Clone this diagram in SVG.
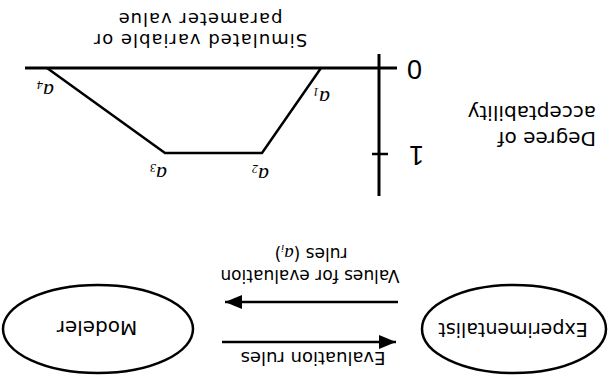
<svg xmlns="http://www.w3.org/2000/svg" width="609" height="376" viewBox="0 0 609 376">
<defs>
<style>
.t{font-family:"DejaVu Sans","Liberation Sans",sans-serif;fill:#000}
.n{font-family:"Liberation Sans Narrow","Liberation Sans",sans-serif;fill:#000;font-size:27px}
.ln{stroke:#000;fill:none}
.ai{font-family:"Liberation Serif",serif;font-style:italic;font-size:22px;fill:#000}
.sub{font-size:12px}
</style>
<marker id="ah" markerUnits="userSpaceOnUse" markerWidth="18" markerHeight="14" refX="17" refY="7" orient="auto">
<path d="M0,0 L17,7 L0,14 z" fill="#000"/>
</marker>
</defs>
<rect width="609" height="376" fill="#fff"/>
<g transform="rotate(180 304.5 188)">
<g id="chart">
<line class="ln" x1="212" y1="308" x2="584" y2="308" stroke-width="3"/>
<line class="ln" x1="230" y1="180" x2="230" y2="322" stroke-width="3"/>
<line class="ln" x1="221" y1="222" x2="237" y2="222" stroke-width="2.5"/>
<polyline class="ln" points="288,308 347,223 444,223 562,308" stroke-width="2.5"/>
<text class="n" x="194.5" y="316" text-anchor="middle">0</text>
<text class="n" x="192.5" y="230" text-anchor="middle">1</text>
<text class="t" x="409" y="342" font-size="18" letter-spacing="1" text-anchor="middle">Simulated variable or</text>
<text class="t" x="409" y="363" font-size="18" letter-spacing="1" text-anchor="middle">parameter value</text>
<text class="t" x="13" y="244" font-size="20">Degree of</text>
<text class="t" x="13" y="270" font-size="20">acceptability</text>
<text class="ai" x="279" y="285">a<tspan class="sub" dy="3">1</tspan></text>
<text class="ai" x="340" y="208">a<tspan class="sub" dy="3">2</tspan></text>
<text class="ai" x="442" y="209">a<tspan class="sub" dy="3">3</tspan></text>
<text class="ai" x="555" y="292">a<tspan class="sub" dy="3">4</tspan></text>
</g>
<g id="modeler">
<ellipse cx="511" cy="47" rx="95" ry="44" class="ln" stroke-width="2.5"/>
<text class="t" x="512" y="55" font-size="20" text-anchor="middle">Modeler</text>
</g>
<g id="experimentalist">
<ellipse cx="95" cy="47" rx="92" ry="44" class="ln" stroke-width="2.5"/>
<text class="t" x="96" y="53" font-size="19" text-anchor="middle">Experimentalist</text>
</g>
<g id="connectors">
<line class="ln" x1="387" y1="34" x2="213" y2="34" stroke-width="2.5" marker-end="url(#ah)"/>
<line class="ln" x1="211" y1="74" x2="384" y2="74" stroke-width="2.5" marker-end="url(#ah)"/>
<text class="t" x="296" y="24" font-size="18" text-anchor="middle">Evaluation rules</text>
<text class="t" x="299" y="106" font-size="17" text-anchor="middle">Values for evaluation</text>
<text class="t" x="298" y="128" font-size="17" text-anchor="middle">rules (<tspan font-family="Liberation Serif" font-style="italic" font-size="19">a</tspan><tspan font-family="Liberation Serif" font-style="italic" font-size="11" dy="3">i</tspan><tspan dy="-3">)</tspan></text>
</g>
</g>
</svg>
